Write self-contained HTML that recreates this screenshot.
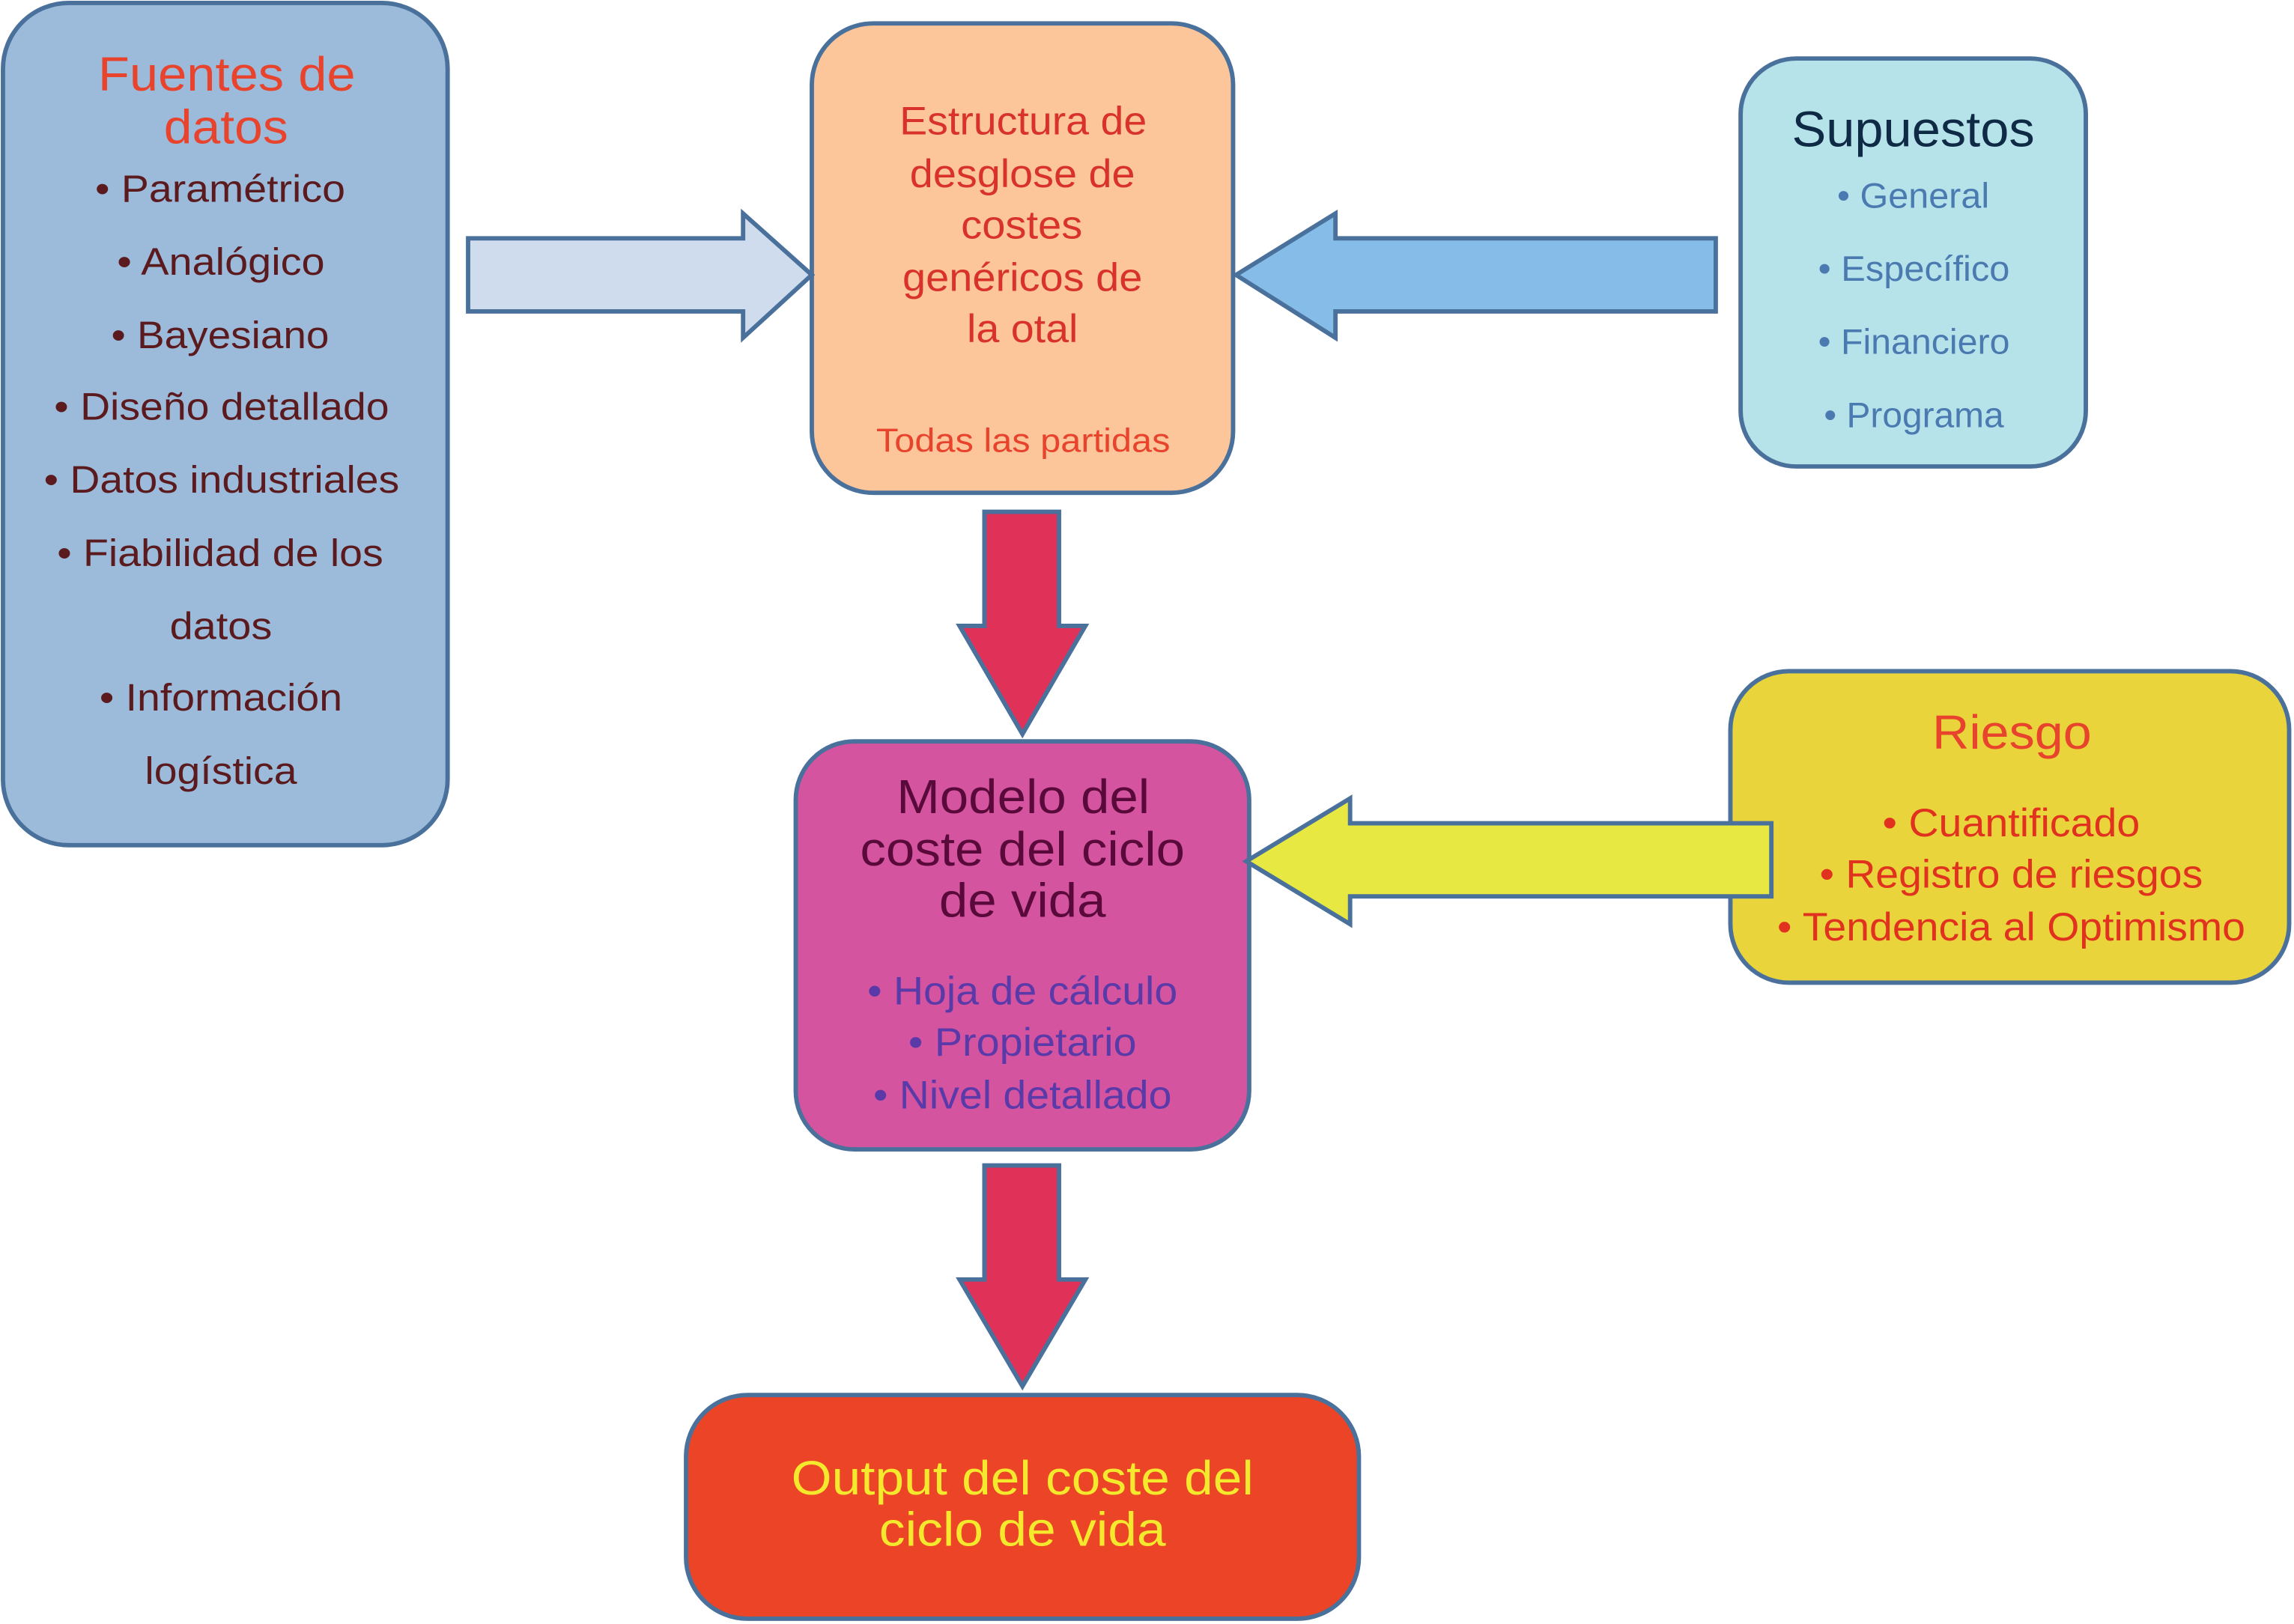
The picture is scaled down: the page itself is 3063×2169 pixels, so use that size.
<!DOCTYPE html>
<html><head><meta charset="utf-8"><style>html,body{margin:0;padding:0;background:#fff}svg{display:block}text{font-family:"Liberation Sans",sans-serif}</style></head><body>
<svg width="3063" height="2169" viewBox="0 0 1568.3 1110.6" xmlns="http://www.w3.org/2000/svg">
<g stroke="#4a719b" stroke-width="3">
<rect x="2" y="2" width="304" height="576" rx="45" fill="#9cbbda"/>
<rect x="555" y="16" width="288" height="321" rx="42" fill="#fcc69a"/>
<rect x="1190" y="40" width="236" height="279" rx="38" fill="#b6e2ea"/>
<rect x="1183" y="459" width="382" height="213" rx="40" fill="#e9d43c"/>
<rect x="544" y="507" width="310" height="279" rx="40" fill="#d454a0"/>
<rect x="469" y="954" width="460" height="153" rx="42" fill="#ec4426"/>
<polygon points="320,163 508,163 508,146 555,188 508,231 508,213 320,213" fill="#cfdcee"/>
<polygon points="1173,163 913,163 913,146 845,188 913,231 913,213 1173,213" fill="#86bde8"/>
<polygon points="673,350 724,350 724,428 742,428 699,502 656,428 673,428" fill="#e03158"/>
<polygon points="673,797 724,797 724,875 742,875 699,948 656,875 673,875" fill="#e03158"/>
<polygon points="1211,563 923,563 923,546 852,589 923,632 923,613 1211,613" fill="#e8e843"/>
</g>
<g text-anchor="middle" lengthAdjust="spacingAndGlyphs">
<g fill="#e8432d" font-size="33">
<text x="155" y="62" textLength="176" lengthAdjust="spacingAndGlyphs">Fuentes de</text>
<text x="154.5" y="98" textLength="85" lengthAdjust="spacingAndGlyphs">datos</text>
</g>
<g fill="#5a1a1e" font-size="26">
<text x="150.5" y="138" textLength="171" lengthAdjust="spacingAndGlyphs">• Paramétrico</text>
<text x="151" y="188" textLength="142" lengthAdjust="spacingAndGlyphs">• Analógico</text>
<text x="150.5" y="238" textLength="149" lengthAdjust="spacingAndGlyphs">• Bayesiano</text>
<text x="151.5" y="287" textLength="229" lengthAdjust="spacingAndGlyphs">• Diseño detallado</text>
<text x="151.5" y="337" textLength="243" lengthAdjust="spacingAndGlyphs">• Datos industriales</text>
<text x="150.5" y="387" textLength="223" lengthAdjust="spacingAndGlyphs">• Fiabilidad de los</text>
<text x="151" y="437" textLength="70" lengthAdjust="spacingAndGlyphs">datos</text>
<text x="151" y="486" textLength="166" lengthAdjust="spacingAndGlyphs">• Información</text>
<text x="151" y="536" textLength="104" lengthAdjust="spacingAndGlyphs">logística</text>
</g>
<g fill="#d8322a" font-size="27">
<text x="699.5" y="92" textLength="169" lengthAdjust="spacingAndGlyphs">Estructura de</text>
<text x="699" y="128" textLength="154" lengthAdjust="spacingAndGlyphs">desglose de</text>
<text x="698.5" y="163" textLength="83" lengthAdjust="spacingAndGlyphs">costes</text>
<text x="699" y="199" textLength="164" lengthAdjust="spacingAndGlyphs">genéricos de</text>
<text x="699" y="234" textLength="76" lengthAdjust="spacingAndGlyphs">la otal</text>
</g>
<text x="699.5" y="309" font-size="23" fill="#e8432d" textLength="201" lengthAdjust="spacingAndGlyphs">Todas las partidas</text>
<text x="1308" y="100" font-size="34" fill="#0f2a45" textLength="166" lengthAdjust="spacingAndGlyphs">Supuestos</text>
<g fill="#4a7ab0" font-size="24">
<text x="1308" y="142" textLength="104" lengthAdjust="spacingAndGlyphs">• General</text>
<text x="1308.5" y="192" textLength="131" lengthAdjust="spacingAndGlyphs">• Específico</text>
<text x="1308.5" y="242" textLength="131" lengthAdjust="spacingAndGlyphs">• Financiero</text>
<text x="1308.5" y="292" textLength="123" lengthAdjust="spacingAndGlyphs">• Programa</text>
</g>
<text x="1375.5" y="512" font-size="33" fill="#e8432d" textLength="109" lengthAdjust="spacingAndGlyphs">Riesgo</text>
<g fill="#e0321f" font-size="27">
<text x="1375" y="572" textLength="176" lengthAdjust="spacingAndGlyphs">• Cuantificado</text>
<text x="1375" y="607" textLength="262" lengthAdjust="spacingAndGlyphs">• Registro de riesgos</text>
<text x="1375" y="643" textLength="320" lengthAdjust="spacingAndGlyphs">• Tendencia al Optimismo</text>
</g>
<g fill="#5a0a3a" font-size="33">
<text x="699.5" y="556" textLength="173" lengthAdjust="spacingAndGlyphs">Modelo del</text>
<text x="699" y="592" textLength="222" lengthAdjust="spacingAndGlyphs">coste del ciclo</text>
<text x="699" y="627" textLength="114" lengthAdjust="spacingAndGlyphs">de vida</text>
</g>
<g fill="#5a3aa8" font-size="27">
<text x="699" y="687" textLength="212" lengthAdjust="spacingAndGlyphs">• Hoja de cálculo</text>
<text x="699" y="722" textLength="156" lengthAdjust="spacingAndGlyphs">• Propietario</text>
<text x="699" y="758" textLength="204" lengthAdjust="spacingAndGlyphs">• Nivel detallado</text>
</g>
<g fill="#f5e92d" font-size="33">
<text x="699" y="1022" textLength="316" lengthAdjust="spacingAndGlyphs">Output del coste del</text>
<text x="699" y="1057" textLength="196" lengthAdjust="spacingAndGlyphs">ciclo de vida</text>
</g>
</g>
</svg>
</body></html>
